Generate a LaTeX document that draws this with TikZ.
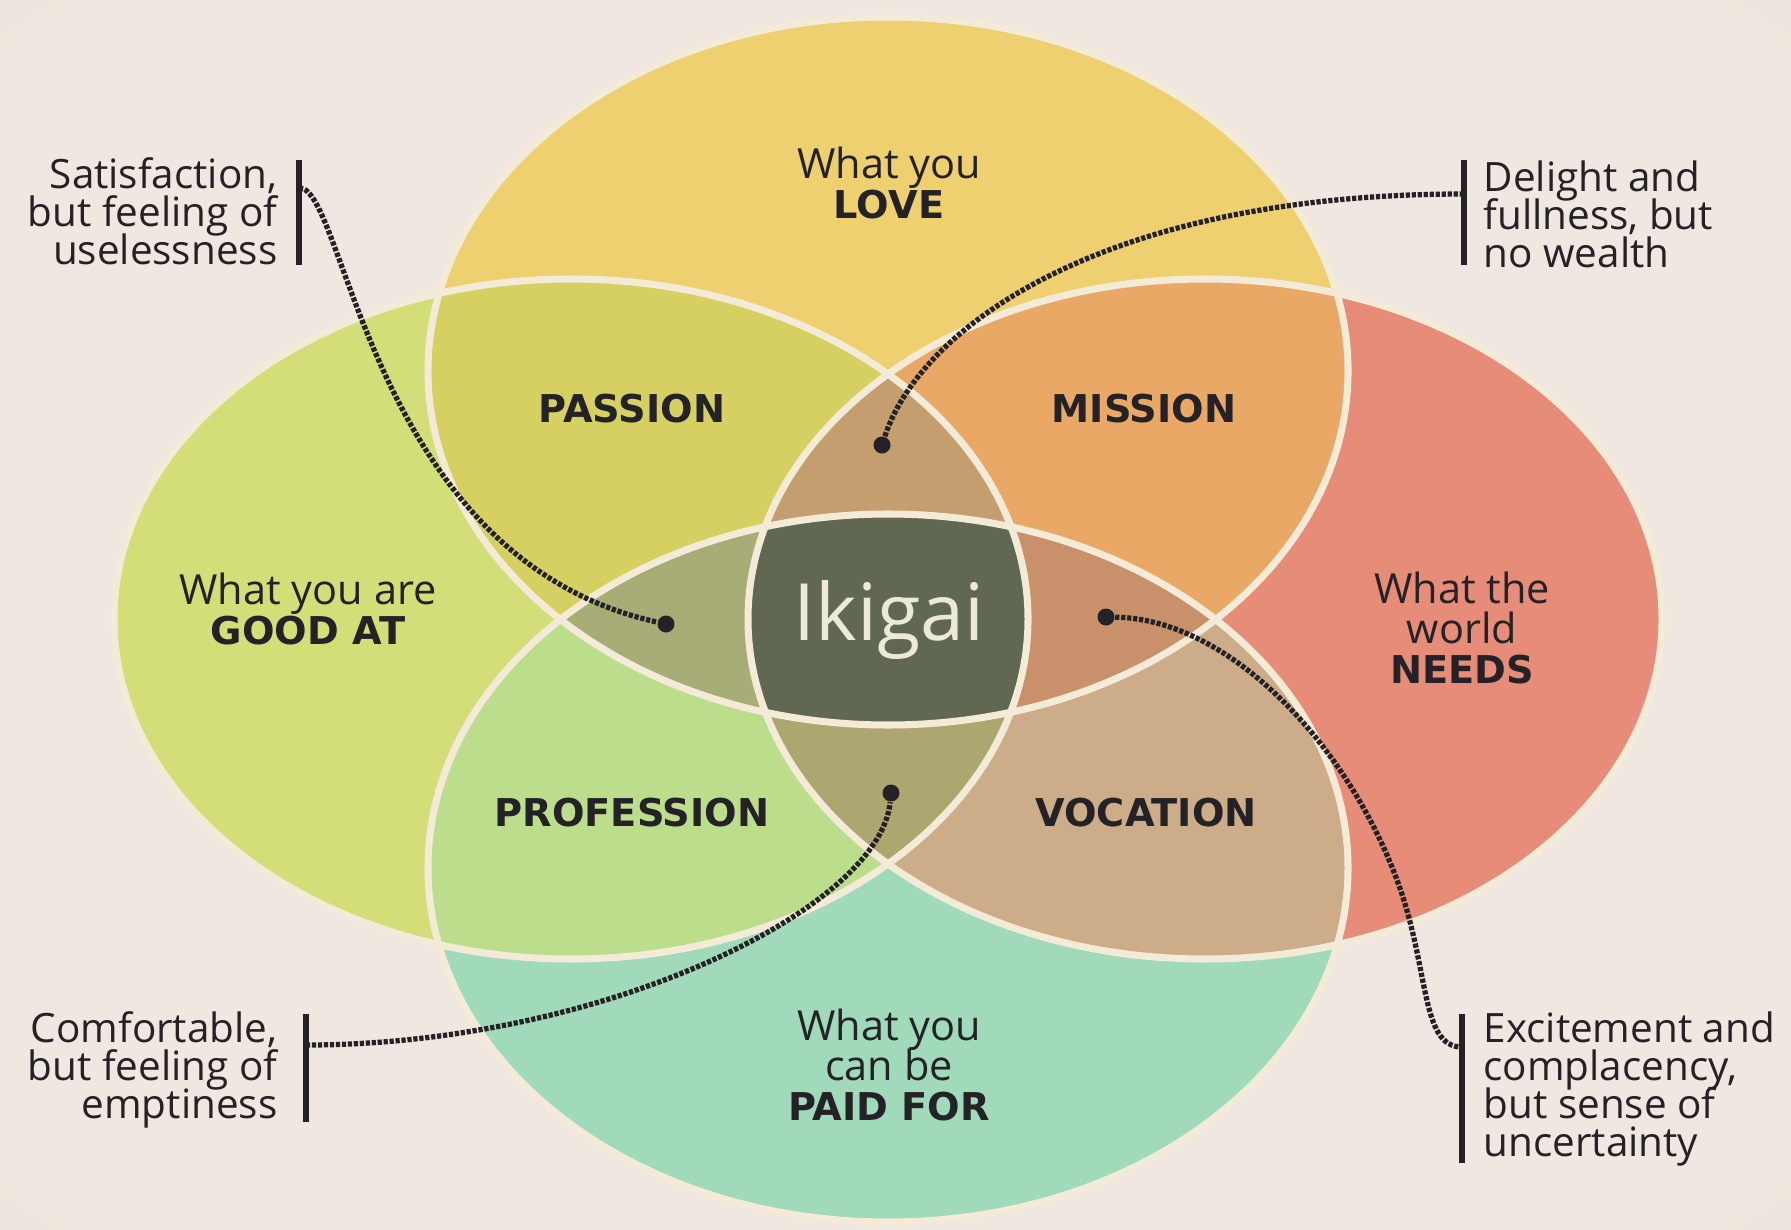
\documentclass[tikz,border=0pt]{standalone}
\usepackage{fontspec}
\setmainfont{Open Sans}
\newfontfamily\capsfont{DejaVu Sans}
\usepackage{tikz}

% colours
\definecolor{bgLight}{RGB}{240,232,224}
\definecolor{bgMid}{RGB}{228,218,210}
\definecolor{bgEdge}{RGB}{192,183,178}
\definecolor{loveCol}{RGB}{238,208,112}
\definecolor{goodCol}{RGB}{212,222,120}
\definecolor{needsCol}{RGB}{230,140,120}
\definecolor{paidCol}{RGB}{160,218,186}
\definecolor{passionCol}{RGB}{214,208,98}
\definecolor{missionCol}{RGB}{234,168,102}
\definecolor{professionCol}{RGB}{188,222,140}
\definecolor{vocationCol}{RGB}{205,172,138}
\definecolor{topLensCol}{RGB}{196,158,110}
\definecolor{leftLensCol}{RGB}{168,172,118}
\definecolor{rightLensCol}{RGB}{200,145,108}
\definecolor{bottomLensCol}{RGB}{172,166,112}
\definecolor{ikigaiCol}{RGB}{96,104,82}
\definecolor{rimCol}{RGB}{243,235,216}
\definecolor{inkCol}{RGB}{36,34,38}
\definecolor{ikigaiText}{RGB}{236,232,218}

\pgfdeclareradialshading{vignette}{\pgfpoint{0bp}{0bp}}{color(0bp)=(bgLight); color(32bp)=(bgLight); color(50bp)=(bgMid); color(72bp)=(bgEdge)}

% the four circles
\def\lovepath{(8.88,8.58) ellipse [x radius=4.60, y radius=3.54]}
\def\goodpath{(5.71,6.10) ellipse [x radius=4.57, y radius=3.40]}
\def\needspath{(12.05,6.10) ellipse [x radius=4.57, y radius=3.40]}
\def\paidpath{(8.88,3.61) ellipse [x radius=4.60, y radius=3.54]}

\newcommand{\capsbf}[1]{{\capsfont\bfseries\fontsize{10.9}{12}\selectfont #1}}
\newcommand{\tightlines}{\lineskiplimit=-20pt\relax}

\tikzset{
  outline/.style={draw=rimCol, line width=2pt},
  region/.style={inner sep=0pt, align=center, text=inkCol,
    font=\fontsize{11.8}{11.3}\selectfont\tightlines},
  side/.style={inner sep=0pt, text=inkCol,
    font=\fontsize{11.5}{10.8}\selectfont\tightlines},
  bar/.style={draw=inkCol, line width=1.9pt},
  link/.style={draw=inkCol, line width=1.5pt, dash pattern=on 1.2pt off 0.5pt},
  dotmark/.style={circle, fill=inkCol, inner sep=0pt, minimum size=0.17cm}
}

\begin{document}
\begin{tikzpicture}
    % Paper background
    \useasboundingbox (0,0) rectangle (17.91,12.29);
    \shade[shading=vignette] (0,0) rectangle (17.91,12.29);

    % Fill the four circles
    \fill[loveCol] \lovepath;
    \fill[goodCol] \goodpath;
    \fill[needsCol] \needspath;
    \fill[paidCol] \paidpath;

    % Overlaps of two circles
    \begin{scope}
        \clip \lovepath;
        \fill[passionCol] \goodpath;
        \fill[missionCol] \needspath;
    \end{scope}
    \begin{scope}
        \clip \paidpath;
        \fill[professionCol] \goodpath;
        \fill[vocationCol] \needspath;
    \end{scope}

    % Overlaps of three circles
    \begin{scope}
        \clip \lovepath; \clip \goodpath;
        \fill[topLensCol] \needspath;
    \end{scope}
    \begin{scope}
        \clip \paidpath; \clip \goodpath;
        \fill[bottomLensCol] \needspath;
    \end{scope}
    \begin{scope}
        \clip \lovepath; \clip \paidpath;
        \fill[leftLensCol] \goodpath;
    \end{scope}
    \begin{scope}
        \clip \lovepath; \clip \paidpath;
        \fill[rightLensCol] \needspath;
    \end{scope}

    % All four: Ikigai
    \begin{scope}
        \clip \lovepath; \clip \paidpath; \clip \goodpath;
        \fill[ikigaiCol] \needspath;
    \end{scope}

    % White rims
    \draw[outline] \lovepath;
    \draw[outline] \goodpath;
    \draw[outline] \needspath;
    \draw[outline] \paidpath;

    % Labels of the circles and overlaps
    \node[region] (love) at (8.89,10.46) {What you\\\capsbf{LOVE}};
    \node[region] (good) at (3.08,6.20) {What you are\\\capsbf{GOOD AT}};
    \node[region] (needs) at (14.62,6.01) {What the\\world\\\capsbf{NEEDS}};
    \node[region] (paid) at (8.89,1.64) {What you\\can be\\\capsbf{PAID FOR}};
    \node[region] (passion) at (6.32,8.20) {\capsbf{PASSION}};
    \node[region] (mission) at (11.44,8.20) {\capsbf{MISSION}};
    \node[region] (profession) at (6.32,4.16) {\capsbf{PROFESSION}};
    \node[region] (vocation) at (11.46,4.16) {\capsbf{VOCATION}};
    \node[region, text=ikigaiText, font=\fontsize{22.5}{24}\selectfont] (ikigai) at (8.89,6.09) {Ikigai};

    % Notes at the four corners
    \node[side, anchor=east, align=right] (satText) at (2.78,10.18) {Satisfaction,\\but feeling of\\uselessness};
    \node[side, anchor=west, align=left] (delText) at (14.83,10.15) {Delight and\\fullness, but\\no wealth};
    \node[side, anchor=east, align=right] (comText) at (2.78,1.59) {Comfortable,\\but feeling of\\emptiness};
    \node[side, anchor=west, align=left] (excText) at (14.83,1.40) {Excitement and\\complacency,\\but sense of\\uncertainty};

    % Bars beside the notes
    \coordinate (satTop) at (2.99,10.69);  \coordinate (satBot) at (2.99,9.64);
    \coordinate (delTop) at (14.64,10.69); \coordinate (delBot) at (14.64,9.64);
    \coordinate (comTop) at (3.06,2.15);   \coordinate (comBot) at (3.06,1.07);
    \coordinate (excTop) at (14.62,2.15);  \coordinate (excBot) at (14.62,0.66);
    \draw[bar] (satTop) -- (satBot);
    \draw[bar] (delTop) -- (delBot);
    \draw[bar] (comTop) -- (comBot);
    \draw[bar] (excTop) -- (excBot);

    % Where the links meet the bars
    \coordinate (satHook) at (2.99,10.41);
    \coordinate (delHook) at (14.64,10.35);
    \coordinate (comHook) at (3.06,1.84);
    \coordinate (excHook) at (14.62,1.82);

    % Dots in the three-circle overlaps
    \node[dotmark] (dotLeft) at (6.66,6.05) {};
    \node[dotmark] (dotTop) at (8.82,7.84) {};
    \node[dotmark] (dotRight) at (11.06,6.12) {};
    \node[dotmark] (dotBottom) at (8.91,4.36) {};

    % Dotted links
    \draw[link] (satHook) .. controls (3.45,10.45) and (3.70,6.70) .. (dotLeft);
    \draw[link] (dotTop) .. controls (9.20,9.00) and (11.00,10.35) .. (delHook);
    \draw[link] (comHook) .. controls (6.00,1.84) and (8.80,3.20) .. (dotBottom);
    \draw[link] (dotRight) .. controls (12.30,6.10) and (13.47,4.84) .. (13.97,3.49)
        .. controls (14.30,2.60) and (14.20,1.82) .. (excHook);
\end{tikzpicture}
\end{document}
